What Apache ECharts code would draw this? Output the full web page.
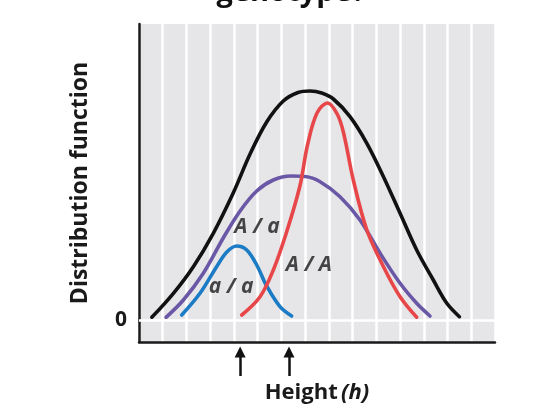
<!DOCTYPE html>
<html><head><meta charset="utf-8">
<script src="https://cdn.jsdelivr.net/npm/echarts@6/dist/echarts.min.js"></script>
<style>html,body{margin:0;padding:0;background:#fff}#c{width:542px;height:418px}</style>
</head><body><div id="c"></div>
<script>
// x in grid-column units (0..15), y in relative height units (0 = baseline)
const totalCurve = [[0.54,2.7],[1.45,26.7],[2.29,53.3],[3.13,86.7],[3.97,127],[4.68,166],[5.38,198],[6.08,219],[6.7,227.5],[7.2,229],[7.7,227],[8.19,221],[8.89,203.3],[9.6,176.7],[10.3,143.3],[11.0,106.7],[11.7,70],[12.4,40],[12.97,16.7],[13.5,3.3]];
const hetCurve = [[1.14,2.7],[1.87,20],[2.71,46.7],[3.55,82],[4.26,109],[4.96,129],[5.66,140],[6.4,144],[7.0,143.5],[7.63,138.3],[8.47,123.3],[9.31,100],[10.16,66.7],[11.0,36.7],[11.7,16.7],[12.26,4]];
const recCurve = [[1.8,5],[2.57,26.7],[3.27,53.3],[3.7,68],[4.12,74],[4.54,70],[4.96,55],[5.38,34],[5.94,13.3],[6.43,4]];
const domCurve = [[4.33,5],[5.1,23.3],[5.66,50],[6.22,88],[6.78,134],[7.1,175],[7.5,207],[7.95,217],[8.35,206],[8.61,188],[9.03,140],[9.6,90],[10.3,53.3],[11.0,23.3],[11.7,2.7]];
const curveLabels = [{name:'A / a', value:[4.97,93]},{name:'a / a', value:[3.88,33]},{name:'A / A', value:[7.16,55]}];
const arrowX = [4.26, 6.32];
const arrowY = [-56, -32];
const titleText = 'genotype?';
const xName = 'Height';
const xNameItalic = '(h)';
const yName = 'Distribution function';

const font = 'Open Sans';
const chart = echarts.init(document.getElementById('c'));
function curve(data, color){
  return {type:'line', data:data, smooth:0.35, symbol:'none', clip:false,
    lineStyle:{color:color, width:3.6, cap:'round', join:'round'}, z:3};
}
chart.setOption({
  animation:false,
  graphic:[{type:'text', x:291, y:7, style:{text:titleText, textAlign:'center', textVerticalAlign:'bottom',
    font:'bold 29px "Open Sans"', fill:'#111'}}],
  grid:{left:139, right:47, top:24, bottom:76, show:true, backgroundColor:'#e6e6e8', borderWidth:0},
  xAxis:{type:'value', min:0, max:15, interval:1,
    name:'{n|'+xName+'} {i|'+xNameItalic+'}', nameLocation:'middle', nameGap:40,
    nameTextStyle:{rich:{n:{fontFamily:font,fontWeight:'bold',fontSize:22,color:'#1a1a1a'},i:{fontFamily:font,fontWeight:'bold',fontStyle:'italic',fontSize:22,color:'#1a1a1a'}}},
    axisLine:{show:true, onZero:false, lineStyle:{color:'#1a1a1a', width:2.5}},
    axisTick:{show:false}, axisLabel:{show:false},
    splitLine:{show:true, lineStyle:{color:'#ffffff', width:2.5}}},
  yAxis:{type:'value', min:-22, max:296, interval:22,
    name:yName, nameLocation:'middle', nameGap:47,
    nameTextStyle:{fontFamily:font, fontWeight:'bold', fontSize:23, color:'#1a1a1a'},
    axisLine:{show:true, onZero:false, lineStyle:{color:'#1a1a1a', width:2.5}},
    axisTick:{show:false},
    axisLabel:{margin:12, fontFamily:font, fontWeight:'bold', fontSize:21, color:'#1a1a1a',
      formatter:function(v){return v===0?'0':'';}},
    splitLine:{show:false}},
  series:[
    {type:'line', data:[], symbol:'none', silent:true,
      markLine:{silent:true, symbol:'none', label:{show:false},
        lineStyle:{color:'#ffffff', width:2.5, type:'solid'}, data:[{yAxis:0}]}, z:2},
    curve(totalCurve,'#111111'),
    curve(hetCurve,'#6a58a6'),
    curve(recCurve,'#1b7bc4'),
    curve(domCurve,'#e8474a'),
    {type:'scatter', data:curveLabels, symbolSize:0, silent:true, z:5,
      label:{show:true, position:'inside', formatter:'{b}', fontFamily:font, fontWeight:'bold',
        fontStyle:'italic', fontSize:21, color:'#1a1a1a'}},
    {type:'lines', coordinateSystem:'cartesian2d', clip:false, silent:true, z:5,
      symbol:['none','triangle'], symbolSize:[0,11],
      lineStyle:{color:'#111', width:2.5, opacity:1},
      data:arrowX.map(function(x){return {coords:[[x,arrowY[0]],[x,arrowY[1]]]};})}
  ]
});
</script></body></html>
